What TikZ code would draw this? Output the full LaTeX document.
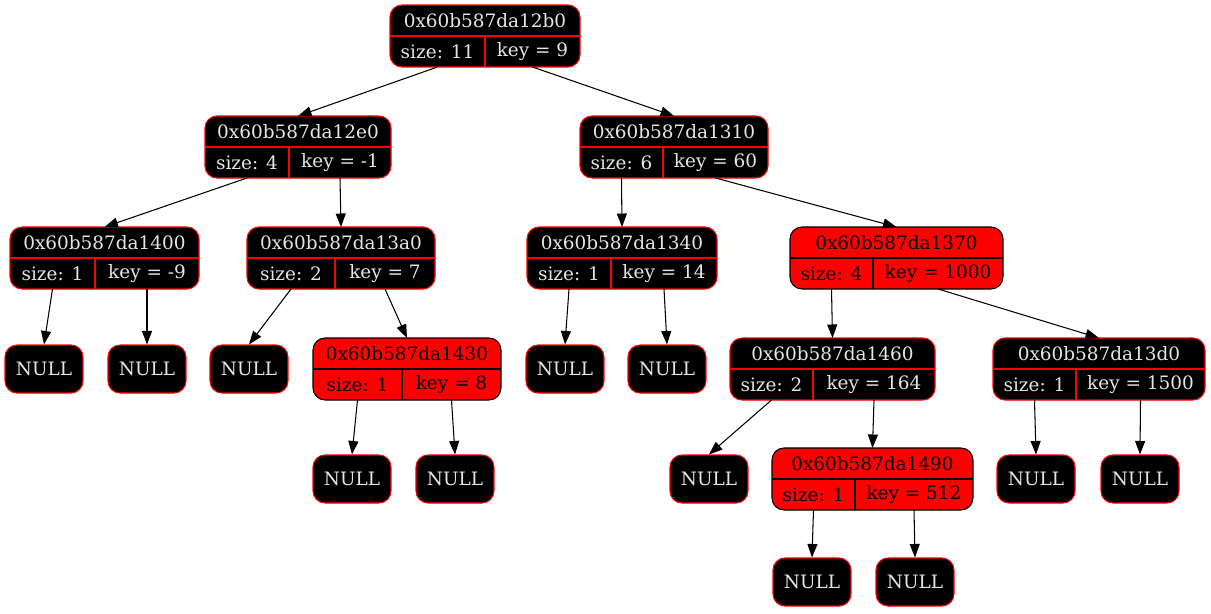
\documentclass[tikz,border=0pt]{standalone}
\usepackage{fontspec}
\setmainfont{DejaVu Serif}
\usetikzlibrary{arrows.meta,positioning}
\tikzset{
  blknode/.style={fill=black, draw=red, text=white!90!black},
  rednode/.style={fill=red, draw=black, text=black},
  recbox/.style={rectangle, rounded corners=0.24cm, line width=0.6pt,
                 inner sep=0pt, outer sep=0pt, minimum height=1.24cm},
  reccell/.style={rectangle, fill=none, draw=none, inner sep=0pt, outer sep=0pt,
                  minimum height=0.62cm, font=\fontsize{10.5}{13}\selectfont},
  nullbox/.style={blknode, rectangle, rounded corners=0.24cm, line width=0.6pt,
                  minimum width=1.56cm, minimum height=0.96cm, inner sep=0pt,
                  font=\fontsize{10.5}{13}\selectfont},
  edge/.style={-{Triangle[length=0.27cm,width=0.2cm]}, line width=0.6pt},
}
% name, colour, left, split, right, top, address, size, key
\newcommand{\recnode}[9]{%
  \node[#2, recbox, minimum width={(#5-#3)*0.02cm}] (#1) at ({(#3+#5)/2},{#6+31}) {};
  \node[#2, reccell, minimum width={(#5-#3)*0.02cm}] (#1-t) at ({(#3+#5)/2},{#6+15.5}) {#7};
  \node[#2, reccell, minimum width={(#4-#3)*0.02cm}] (#1-l) at ({(#3+#4)/2},{#6+46.5}) {size: #8};
  \node[#2, reccell, minimum width={(#5-#4)*0.02cm}] (#1-r) at ({(#4+#5)/2},{#6+46.5}) {key = #9};
  \draw[#2, line width=0.6pt] (#1-t.south west) -- (#1-t.south east);
  \draw[#2, line width=0.6pt] (#1-l.north east) -- (#1-l.south east);
}
\begin{document}
\begin{tikzpicture}[x=0.02cm, y=-0.02cm]
  \fill[white] (0,0) rectangle (1211,613);
  \useasboundingbox (0,0) rectangle (1211,613);

  % records
  \recnode{n12b0}{blknode}{390}{485}{580}{5}{0x60b587da12b0}{11}{9}
  \recnode{n12e0}{blknode}{205}{289}{391}{116}{0x60b587da12e0}{4}{-1}
  \recnode{n1310}{blknode}{580}{663}{768}{116}{0x60b587da1310}{6}{60}
  \recnode{n1400}{blknode}{10}{95}{199}{227}{0x60b587da1400}{1}{-9}
  \recnode{n13a0}{blknode}{247}{335}{435}{227}{0x60b587da13a0}{2}{7}
  \recnode{n1340}{blknode}{527}{611}{717}{227}{0x60b587da1340}{1}{14}
  \recnode{n1370}{rednode}{790}{873}{1003}{227}{0x60b587da1370}{4}{1000}
  \recnode{n1430}{rednode}{313}{402}{501}{338}{0x60b587da1430}{1}{8}
  \recnode{n1460}{blknode}{730}{813}{935}{338}{0x60b587da1460}{2}{164}
  \recnode{n13d0}{blknode}{993}{1076}{1205}{338}{0x60b587da13d0}{1}{1500}
  \recnode{n1490}{rednode}{772}{855}{973}{448}{0x60b587da1490}{1}{512}

  % leaves
  \node[nullbox] (n1400a) at (44,369) {NULL};
  \node[nullbox] (n1400b) at (147,369) {NULL};
  \node[nullbox] (n13a0a) at (249,369) {NULL};
  \node[nullbox] (n1340a) at (565,369) {NULL};
  \node[nullbox] (n1340b) at (667,369) {NULL};
  \node[nullbox] (n1430a) at (352,479) {NULL};
  \node[nullbox] (n1430b) at (455,479) {NULL};
  \node[nullbox] (n1460a) at (709,479) {NULL};
  \node[nullbox] (n13d0a) at (1036,479) {NULL};
  \node[nullbox] (n13d0b) at (1140,479) {NULL};
  \node[nullbox] (n1490a) at (812,582) {NULL};
  \node[nullbox] (n1490b) at (915,582) {NULL};

  % edges
  \foreach \p/\c in {n12b0-l/n12e0, n12b0-r/n1310, n12e0-l/n1400, n12e0-r/n13a0,
                     n1400-l/n1400a, n1400-r/n1400b, n13a0-l/n13a0a, n13a0-r/n1430,
                     n1430-l/n1430a, n1430-r/n1430b, n1310-l/n1340, n1310-r/n1370,
                     n1340-l/n1340a, n1340-r/n1340b, n1370-l/n1460, n1370-r/n13d0,
                     n1460-l/n1460a, n1460-r/n1490, n1490-l/n1490a, n1490-r/n1490b,
                     n13d0-l/n13d0a, n13d0-r/n13d0b}
    \draw[edge] (\p.south) -- (\c.north);
\end{tikzpicture}
\end{document}
